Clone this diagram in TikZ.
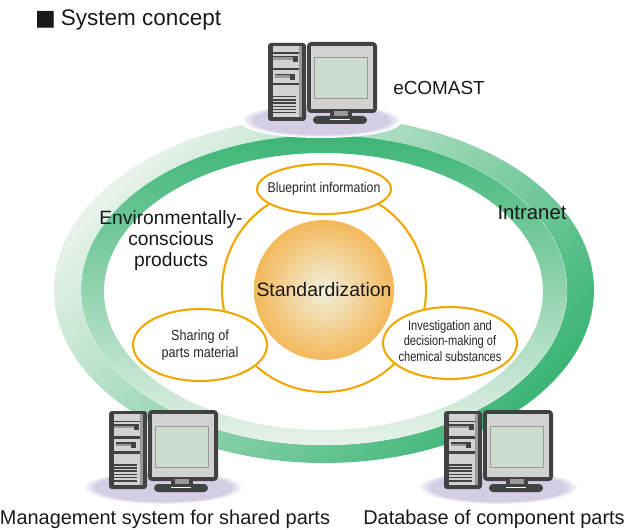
\documentclass[tikz,border=0pt]{standalone}
\usepackage{fontspec}
\setmainfont{Liberation Sans}
\newfontfamily\narrowface[FakeStretch=0.87]{Liberation Sans}
\newfontfamily\narrowerface[FakeStretch=0.8]{Liberation Sans}
\newfontfamily\symbolface{DejaVu Sans}
\usetikzlibrary{shapes.geometric}
\definecolor{ringdark}{HTML}{3CB576}
\definecolor{ringlight}{HTML}{E8F2EA}
\definecolor{amber}{HTML}{F0A800}
\definecolor{pcdark}{HTML}{424242}
\definecolor{pcgray}{HTML}{D2D2D2}
\definecolor{pcmid}{HTML}{9A9A9A}
\definecolor{pcscreen}{HTML}{CDDCD0}
\definecolor{padlilac}{HTML}{D5CDE4}
\definecolor{coreglow}{HTML}{F2F0DC}
\definecolor{coreedge}{HTML}{F3B85A}
\pgfdeclareradialshading{padshade}{\pgfpoint{0bp}{0bp}}{color(0bp)=(padlilac); color(21bp)=(padlilac); color(25bp)=(white)}
\tikzset{
  x=1bp,y=-1bp,
  biglabel/.style={font=\fontsize{#1}{21.5}\selectfont,text=black!90,align=center,inner sep=0},
  biglabel/.default=19.5,
  spot/.style={ellipse,draw=amber,line width=2.1bp,fill=white,inner sep=0,minimum width=134bp},
  spottext/.style={align=center,text=black!85,inner sep=0},
  pad/.pic={
    \shade[shading=padshade] (0,0) ellipse [x radius=80,y radius=17];
  },
  computer/.pic={
    % tower
    \fill[pcdark,rounded corners=3bp] (0,0) rectangle (38,78);
    \fill[pcgray] (5,3) rectangle (34,74);
    \fill[pcmid] (31,3) rectangle (34,74);
    \fill[pcdark] (5,9.5) rectangle (31,11);
    \fill[pcdark] (5,25) rectangle (31,27.5);
    \fill[pcdark] (5,40) rectangle (31,42.5);
    \fill[pcdark] (5,13) rectangle (30,14.5);
    \fill[pcdark] (25,13) rectangle (30,19);
    \fill[pcmid] (5,14.5) rectangle (25,17);
    \fill[pcdark] (7,31) rectangle (27,32.5);
    \fill[pcdark] (22,31) rectangle (27,37);
    \fill[pcmid] (7,32.5) rectangle (22,35);
    \foreach \v in {53,56.2,59.4,62.6,65.8,69}{\fill[pcdark] (5,\v) rectangle (28,\v+1.5);}
    % monitor
    \fill[pcdark,rounded corners=4bp] (39,-1) rectangle (109,70);
    \fill[pcgray] (43,3) rectangle (105,66);
    \fill[pcscreen,draw=pcmid,line width=1bp] (46.5,15) rectangle (99,56);
    % stand
    \fill[pcdark] (62,66) rectangle (84,74);
    \fill[pcmid] (66,68) rectangle (80,73);
    \fill[pcdark,rounded corners=4bp] (45,73) rectangle (99,81);
    \fill[white] (62,76.3) rectangle (82,77.3);
  }
}
\begin{document}
\begin{tikzpicture}
\useasboundingbox (0,0) rectangle (627,530);
\coordinate (mid) at (324,290);
% twisted ring
\path[even odd rule,top color=ringlight,bottom color=ringdark,shading angle=45]
  (mid) ellipse [x radius=270,y radius=173] (mid) ellipse [x radius=243,y radius=155];
\path[even odd rule,top color=ringdark,bottom color=ringlight]
  (mid) ellipse [x radius=243,y radius=155] (323.5,291.5) ellipse [x radius=219.5,y radius=138.5];
\draw[white,opacity=.5,line width=.4bp] (mid) ellipse [x radius=243,y radius=155];
% hub and core
\node[circle,draw=amber,line width=2.1bp,minimum size=204bp,inner sep=0] (hub) at (324,290) {};
\node[circle,inner color=coreglow,outer color=coreedge,minimum size=140bp,inner sep=0,
      biglabel] (core) at (324,290) {Standardization};
% satellite ellipses
\node[spot,minimum height=50bp,
  label={[spottext,font=\narrowface\fontsize{14.2}{16.5}\selectfont]center:Blueprint information}] (blueprint) at (324,189) {};
\node[spot,minimum height=72bp,
  label={[spottext,font=\narrowface\fontsize{14.6}{17}\selectfont]center:Sharing of\\parts material}] (sharing) at (200,345) {};
\node[spot,minimum height=72bp,
  label={[spottext,font=\narrowerface\fontsize{13.9}{16}\selectfont,yshift=2bp]center:Investigation and\\decision-making of\\chemical substances}] (invest) at (450,343) {};
% computers
\fill[white] (321,122) ellipse [x radius=80,y radius=16];
\pic at (321,120) {pad};
\pic at (163,487) {pad};
\pic at (498,487) {pad};
\pic at (268,43) {computer};
\pic at (109,411) {computer};
\pic at (444,411) {computer};
% labels
\node[biglabel=22.6,anchor=west] (title) at (35,20) {{\symbolface\fontsize{22}{22}\selectfont ■}\hspace{5bp}System concept};
\node[biglabel=19] (ecomast) at (439,88) {eCOMAST};
\node[biglabel=20.4] (intranet) at (532,213) {Intranet};
\node[biglabel=19.3] (env) at (171,240.5) {Environmentally-\\conscious\\products};
\node[biglabel=20] (mgmt) at (165,519) {Management system for shared parts};
\node[biglabel=20] (db) at (494,519) {Database of component parts};
\end{tikzpicture}
\end{document}
